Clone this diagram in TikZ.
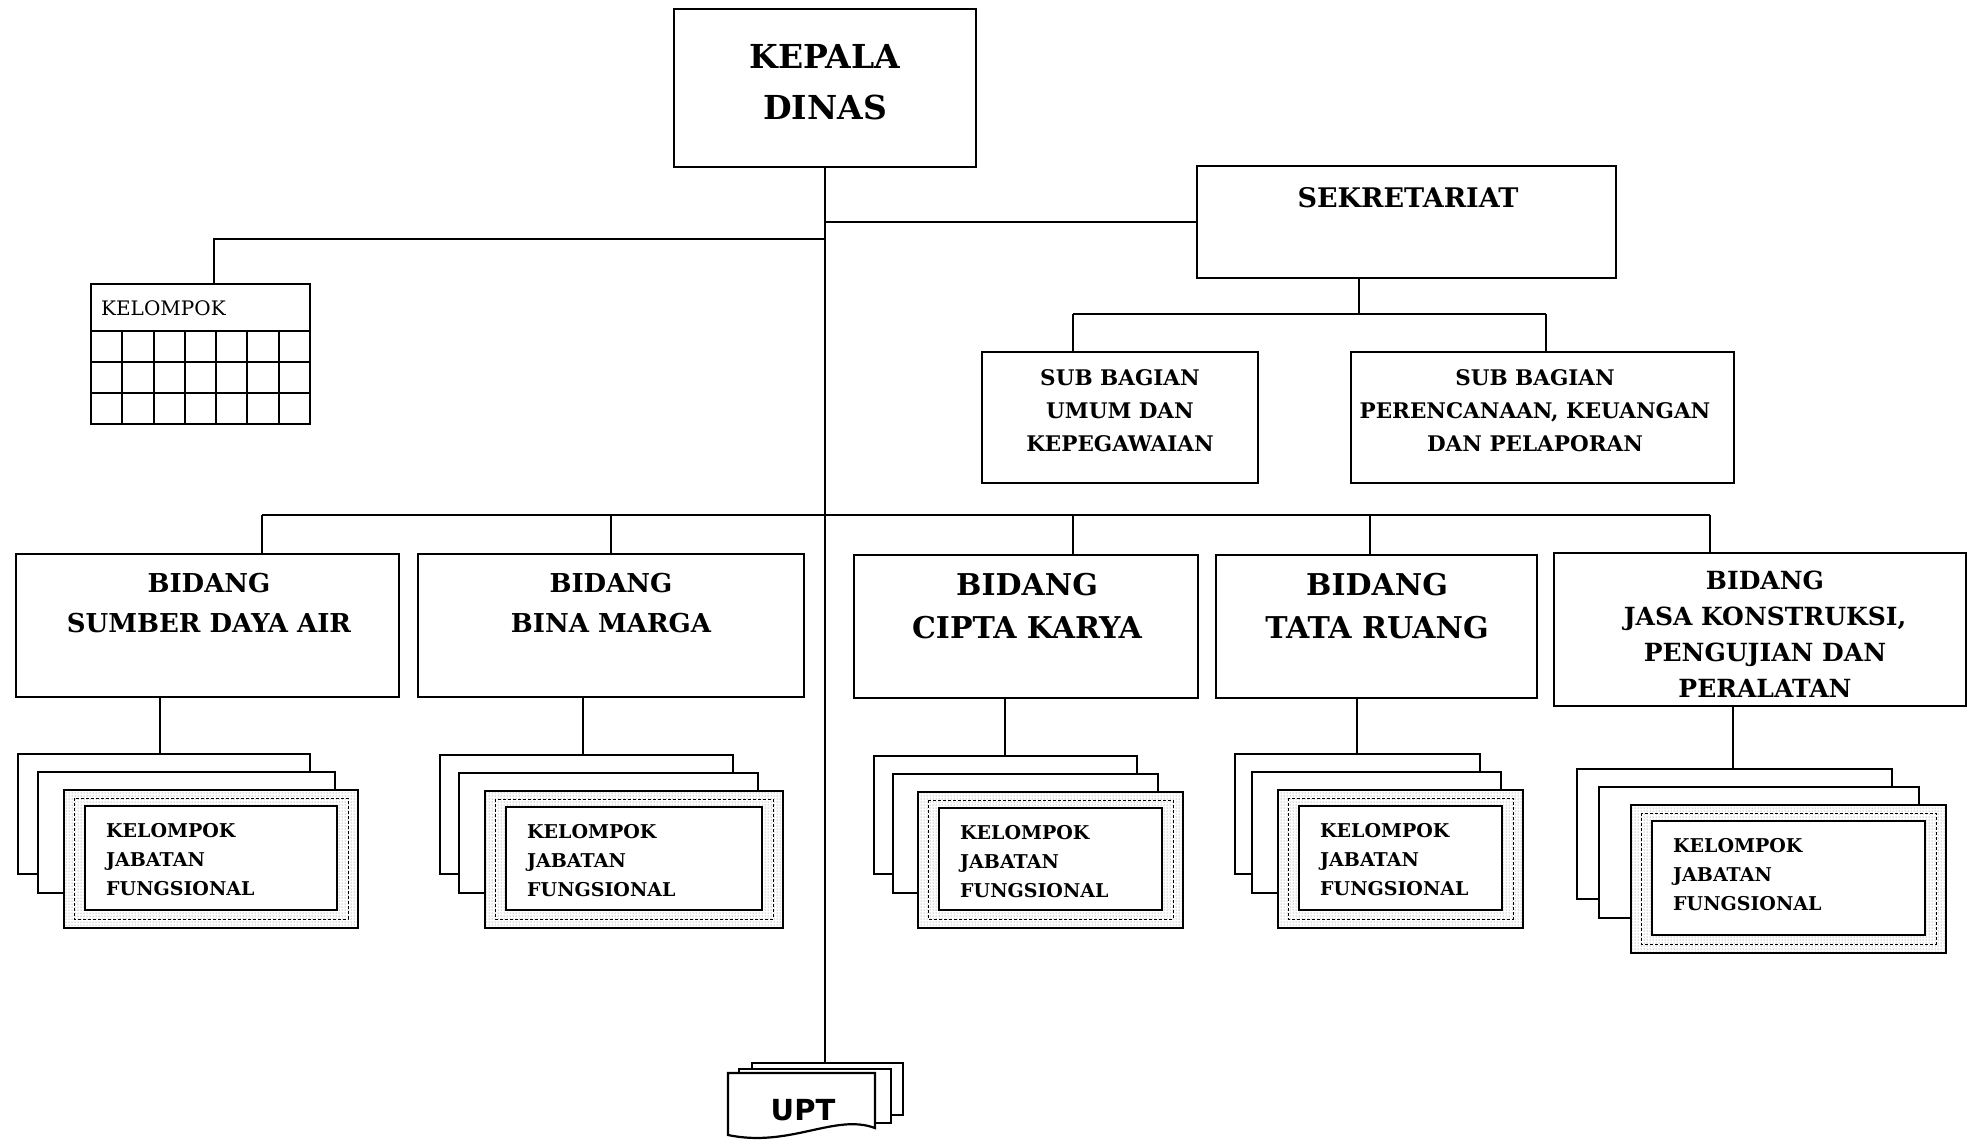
\documentclass[tikz,border=0pt]{standalone}
\usepackage{fontspec}
\setmainfont{DejaVu Serif}
\newfontfamily\uptfont{DejaVu Sans}
\usetikzlibrary{patterns,fit}

\tikzset{
  unit box/.style={draw, line width=2.2pt, fill=white, inner sep=0pt},
  link/.style={line width=2pt},
  title/.style={align=center, inner sep=0pt},
  band/.style={draw, line width=2.2pt, preaction={fill=white}, pattern=dots, pattern color=black!55},
  band rule/.style={line width=0.9pt, dash pattern=on 3pt off 2pt},
  kjf text/.style={align=left, inner sep=0pt, anchor=west, font=\bfseries\fontsize{19}{29}\selectfont},
}

% a plain box from its two corners
\newcommand\orgbox[6][]{\node[unit box,#1,fit={(#3,#4)(#5,#6)}] (#2) {};}

% a stack of three sheets for a functional group:
% #1 id, #2-#5 front frame (left, top, right, bottom),
% #6/#7 back sheet shift (left/right), #8/#9 middle sheet shift (left/right)
\newcommand\kjfstack[9]{%
  \node[unit box, fit={({#2-#6},{#3-36}) ({#4-#7},{#5-54})}] (#1-back) {};
  \node[unit box, fit={({#2-#8},{#3-18}) ({#4-#9},{#5-35})}] (#1-mid) {};
  \node[band, inner sep=0pt, fit={(#2,#3) (#4,#5)}] (#1-front) {};
  \draw[band rule] ({#2+10},{#3+8}) rectangle ({#4-10},{#5-9});
  \node[unit box, fit={({#2+21},{#3+16}) ({#4-21},{#5-18})}] (#1-inner) {};
  \node[kjf text] (#1-t) at ({#2+42},{#3+70}) {KELOMPOK\\JABATAN\\FUNGSIONAL};
}

\begin{document}
\begin{tikzpicture}[x=1pt,y=-1pt]
\useasboundingbox[fill=white] (0,0) rectangle (1969,1141);

% ---- head of office ----
\orgbox{kd}{674}{9}{976}{167}
\node[title, font=\bfseries\fontsize{33}{51}\selectfont] (kd-t) at (825,82) {KEPALA\\DINAS};

% ---- secretariat and its sub-sections ----
\orgbox{sek}{1197}{166}{1616}{278}
\node[title, font=\bfseries\fontsize{27}{30}\selectfont] (sek-t) at (1408,198) {SEKRETARIAT};

\orgbox{umum}{982}{352}{1258}{483}
\node[title, font=\bfseries\fontsize{21.5}{33}\selectfont] (umum-t) at (1120,410.5) {SUB BAGIAN\\UMUM DAN\\KEPEGAWAIAN};

\orgbox{renc}{1351}{352}{1734}{483}
\node[title, font=\bfseries\fontsize{21.5}{33}\selectfont] (renc-t) at (1535,410.5) {SUB BAGIAN\\PERENCANAAN, KEUANGAN\\DAN PELAPORAN};

% ---- functional group table ----
\orgbox{klp}{91}{284}{310}{424}
\foreach \i in {1,...,6} \draw[line width=2pt] ({91+\i*31.286},331) -- ({91+\i*31.286},424);
\foreach \y in {331,362,393} \draw[line width=2pt] (91,\y) -- (310,\y);
\node[inner sep=0pt, anchor=base west, font=\fontsize{20}{24}\selectfont] (klp-t) at (101,315) {KELOMPOK};

% ---- divisions ----
\orgbox{b1}{16}{554}{399}{697}
\orgbox{b2}{418}{554}{804}{697}
\orgbox{b3}{854}{555}{1198}{698}
\orgbox{b4}{1216}{555}{1537}{698}
\orgbox{b5}{1554}{553}{1966}{706}

\node[title, font=\bfseries\fontsize{26}{40}\selectfont] (b1-t) at (209,603) {BIDANG\\SUMBER DAYA AIR};
\node[title, font=\bfseries\fontsize{26}{40}\selectfont] (b2-t) at (611,603) {BIDANG\\BINA MARGA};
\node[title, font=\bfseries\fontsize{30}{43}\selectfont] (b3-t) at (1027,606.5) {BIDANG\\CIPTA KARYA};
\node[title, font=\bfseries\fontsize{30}{43}\selectfont] (b4-t) at (1377,606.5) {BIDANG\\TATA RUANG};
\node[title, font=\bfseries\fontsize{25}{36}\selectfont] (b5-t) at (1765,634) {BIDANG\\JASA KONSTRUKSI,\\PENGUJIAN DAN\\PERALATAN};

% ---- functional groups under each division ----
\kjfstack{k1}{64}{790}{358}{928}{46}{48}{26}{23}
\kjfstack{k2}{485}{791}{783}{928}{45}{50}{26}{25}
\kjfstack{k3}{918}{792}{1183}{928}{44}{46}{25}{25}
\kjfstack{k4}{1278}{790}{1523}{928}{43}{43}{26}{22}
\kjfstack{k5}{1631}{805}{1946}{953}{54}{54}{32}{27}

% ---- technical units ----
\node[unit box, fit={(752,1063)(903,1115)}] (upt-back) {};
\node[unit box, fit={(739,1069)(891,1123)}] (upt-mid) {};
\draw[line width=2.2pt, fill=white] (728,1073) -- (875,1073) -- (875,1128)
  .. controls (835,1113) and (790,1148) .. (728,1135) -- cycle;
\node[inner sep=0pt, font=\uptfont\bfseries\fontsize{29}{29}\selectfont] (upt) at (803,1110) {UPT};

% ---- connectors ----
% main trunk
\draw[link] (kd.south) -- (kd.south |- upt-back.north);
% to the secretariat
\draw[link] (kd.south |- sek.west) -- (sek.west);
% to the functional group table
\coordinate (kb) at (214,239);
\draw[link] (kd.south |- kb) -- (kb) -- (kb |- klp.north);
% secretariat to its sub-sections
\coordinate (sd) at (1359,314);
\coordinate (u1) at (1073,314);
\coordinate (u2) at (1546,314);
\draw[link] (sd |- sek.south) -- (sd);
\draw[link] (u1) -- (u2);
\draw[link] (u1) -- (u1 |- umum.north);
\draw[link] (u2) -- (u2 |- renc.north);
% division bus
\coordinate (d1) at (262,515);
\coordinate (d2) at (611,515);
\coordinate (d3) at (1073,515);
\coordinate (d4) at (1370,515);
\coordinate (d5) at (1710,515);
\draw[link] (d1) -- (d5);
\foreach \n in {1,...,5} \draw[link] (d\n) -- (d\n |- b\n.north);
% divisions to their functional groups
\coordinate (s1) at (160,0);
\coordinate (s2) at (583,0);
\coordinate (s3) at (1005,0);
\coordinate (s4) at (1357,0);
\coordinate (s5) at (1733,0);
\foreach \n in {1,...,5} \draw[link] (s\n |- b\n.south) -- (s\n |- k\n-back.north);
\end{tikzpicture}
\end{document}
